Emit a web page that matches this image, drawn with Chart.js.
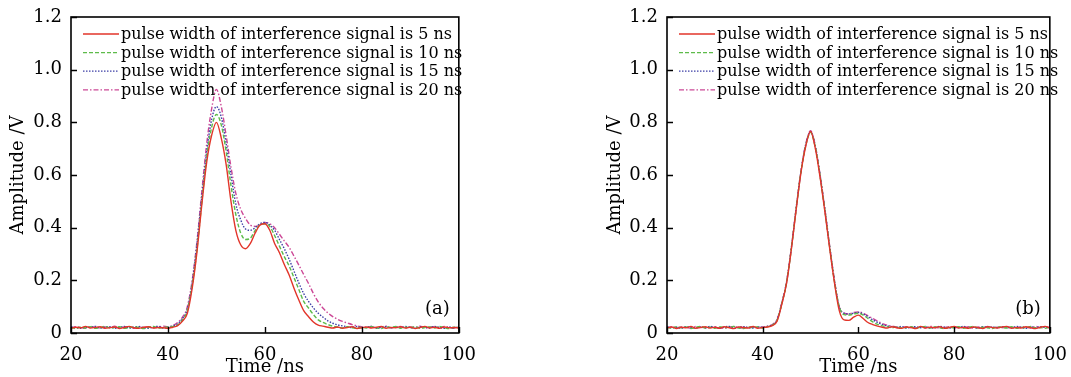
<!DOCTYPE html>
<html>
<head>
<meta charset="utf-8">
<script src="https://cdn.jsdelivr.net/npm/chart.js@4.4.1/dist/chart.umd.min.js"></script>
<style>
  html, body { margin: 0; padding: 0; background: #fff; }
  #wrap { position: relative; width: 1071px; height: 377px; overflow: hidden; }
  .panel { position: absolute; top: 0; }
</style>
</head>
<body>
<div id="wrap">
  <div class="panel" style="left:0px"><canvas id="chartA" width="480" height="377"></canvas></div>
  <div class="panel" style="left:590px"><canvas id="chartB" width="481" height="377"></canvas></div>
</div>
<script>
// time axis (ns)
const times = [
  20, 21, 22, 23, 24, 25, 26, 27, 28, 29,
  30, 31, 32, 33, 34, 35, 36, 37, 38, 39,
  40, 41, 42, 43, 44, 45, 46, 47, 48, 49,
  50, 51, 52, 53, 54, 55, 56, 57, 58, 59,
  60, 61, 62, 63, 64, 65, 66, 67, 68, 69,
  70, 71, 72, 73, 74, 75, 76, 77, 78, 79,
  80, 81, 82, 83, 84, 85, 86, 87, 88, 89,
  90, 91, 92, 93, 94, 95, 96, 97, 98, 99, 100
];

const seriesLabels = [
  'pulse width of interference signal is 5 ns',
  'pulse width of interference signal is 10 ns',
  'pulse width of interference signal is 15 ns',
  'pulse width of interference signal is 20 ns'
];

const yTicks = [0, 0.2, 0.4, 0.6, 0.8, 1.0, 1.2];
const xTicks = [20, 40, 60, 80, 100];

// panel (a)
const a5 = [
  0.018, 0.022, 0.020, 0.025, 0.019, 0.021, 0.024, 0.018, 0.020, 0.023,
  0.017, 0.021, 0.025, 0.020, 0.018, 0.022, 0.024, 0.019, 0.021, 0.020,
  0.018, 0.022, 0.028, 0.045, 0.075, 0.170, 0.310, 0.490, 0.650, 0.750,
  0.800, 0.740, 0.640, 0.500, 0.390, 0.335, 0.320, 0.340, 0.380, 0.410,
  0.415, 0.390, 0.340, 0.305, 0.260, 0.220, 0.170, 0.125, 0.085, 0.062,
  0.042, 0.030, 0.026, 0.022, 0.019, 0.023, 0.018, 0.021, 0.024, 0.017,
  0.020, 0.023, 0.019, 0.022, 0.025, 0.018, 0.021, 0.020, 0.024, 0.019,
  0.022, 0.017, 0.021, 0.025, 0.019, 0.022, 0.018, 0.023, 0.020, 0.021, 0.019
];
const a10 = [
  0.021, 0.017, 0.023, 0.019, 0.024, 0.018, 0.020, 0.025, 0.019, 0.021,
  0.024, 0.018, 0.020, 0.023, 0.021, 0.017, 0.022, 0.025, 0.018, 0.021,
  0.023, 0.025, 0.030, 0.050, 0.085, 0.180, 0.320, 0.500, 0.670, 0.780,
  0.830, 0.790, 0.690, 0.560, 0.450, 0.380, 0.355, 0.360, 0.390, 0.410,
  0.415, 0.405, 0.370, 0.330, 0.290, 0.255, 0.210, 0.165, 0.120, 0.095,
  0.070, 0.050, 0.040, 0.032, 0.026, 0.022, 0.019, 0.024, 0.020, 0.018,
  0.022, 0.019, 0.024, 0.020, 0.017, 0.023, 0.021, 0.025, 0.018, 0.022,
  0.020, 0.024, 0.018, 0.021, 0.023, 0.019, 0.025, 0.020, 0.017, 0.022, 0.021
];
const a15 = [
  0.024, 0.020, 0.018, 0.022, 0.021, 0.025, 0.019, 0.022, 0.024, 0.018,
  0.021, 0.025, 0.019, 0.022, 0.024, 0.020, 0.018, 0.023, 0.025, 0.019,
  0.022, 0.027, 0.035, 0.055, 0.090, 0.190, 0.340, 0.520, 0.690, 0.810,
  0.860, 0.820, 0.720, 0.600, 0.490, 0.430, 0.395, 0.390, 0.400, 0.415,
  0.420, 0.410, 0.390, 0.355, 0.320, 0.280, 0.235, 0.190, 0.150, 0.120,
  0.095, 0.075, 0.060, 0.046, 0.037, 0.031, 0.027, 0.024, 0.021, 0.025,
  0.019, 0.022, 0.025, 0.018, 0.021, 0.024, 0.020, 0.023, 0.019, 0.025,
  0.021, 0.018, 0.024, 0.022, 0.019, 0.025, 0.021, 0.018, 0.023, 0.020, 0.024
];
const a20 = [
  0.020, 0.024, 0.021, 0.018, 0.025, 0.022, 0.019, 0.023, 0.021, 0.026,
  0.019, 0.023, 0.022, 0.018, 0.025, 0.021, 0.024, 0.020, 0.023, 0.026,
  0.024, 0.028, 0.040, 0.060, 0.100, 0.200, 0.350, 0.540, 0.720, 0.850,
  0.925, 0.860, 0.750, 0.630, 0.530, 0.470, 0.435, 0.410, 0.405, 0.410,
  0.420, 0.415, 0.400, 0.375, 0.350, 0.325, 0.292, 0.258, 0.222, 0.188,
  0.150, 0.118, 0.094, 0.076, 0.062, 0.052, 0.044, 0.038, 0.032, 0.027,
  0.024, 0.021, 0.025, 0.019, 0.023, 0.026, 0.020, 0.022, 0.025, 0.018,
  0.023, 0.021, 0.026, 0.019, 0.022, 0.024, 0.020, 0.025, 0.021, 0.018, 0.023
];

// panel (b)
const b5 = [
  0.019, 0.023, 0.017, 0.022, 0.020, 0.025, 0.018, 0.021, 0.024, 0.019,
  0.022, 0.018, 0.024, 0.020, 0.017, 0.023, 0.021, 0.019, 0.025, 0.018,
  0.021, 0.023, 0.028, 0.045, 0.110, 0.190, 0.320, 0.470, 0.610, 0.710,
  0.765, 0.700, 0.590, 0.460, 0.320, 0.190, 0.085, 0.050, 0.048, 0.060,
  0.068, 0.055, 0.040, 0.032, 0.026, 0.022, 0.019, 0.024, 0.020, 0.018,
  0.023, 0.021, 0.017, 0.025, 0.019, 0.022, 0.020, 0.024, 0.018, 0.021,
  0.025, 0.019, 0.022, 0.018, 0.023, 0.020, 0.017, 0.024, 0.021, 0.019,
  0.023, 0.025, 0.018, 0.021, 0.019, 0.024, 0.020, 0.017, 0.022, 0.025, 0.019
];
const b10 = [
  0.022, 0.018, 0.024, 0.020, 0.023, 0.017, 0.021, 0.025, 0.019, 0.022,
  0.018, 0.024, 0.020, 0.022, 0.025, 0.019, 0.017, 0.023, 0.020, 0.024,
  0.019, 0.024, 0.030, 0.048, 0.112, 0.192, 0.322, 0.472, 0.612, 0.712,
  0.762, 0.705, 0.595, 0.465, 0.325, 0.195, 0.100, 0.070, 0.068, 0.072,
  0.075, 0.068, 0.055, 0.042, 0.033, 0.027, 0.024, 0.020, 0.023, 0.019,
  0.021, 0.024, 0.018, 0.022, 0.025, 0.019, 0.023, 0.020, 0.017, 0.022,
  0.020, 0.024, 0.018, 0.021, 0.025, 0.019, 0.022, 0.020, 0.017, 0.023,
  0.021, 0.019, 0.024, 0.018, 0.022, 0.020, 0.025, 0.019, 0.021, 0.018, 0.022
];
const b15 = [
  0.025, 0.020, 0.022, 0.018, 0.024, 0.021, 0.019, 0.023, 0.020, 0.025,
  0.021, 0.019, 0.023, 0.025, 0.018, 0.022, 0.024, 0.020, 0.019, 0.023,
  0.022, 0.025, 0.031, 0.050, 0.114, 0.195, 0.325, 0.475, 0.615, 0.715,
  0.765, 0.708, 0.598, 0.468, 0.328, 0.198, 0.100, 0.075, 0.072, 0.075,
  0.078, 0.072, 0.062, 0.050, 0.040, 0.032, 0.027, 0.024, 0.021, 0.025,
  0.019, 0.022, 0.024, 0.020, 0.023, 0.018, 0.021, 0.025, 0.022, 0.019,
  0.023, 0.021, 0.025, 0.019, 0.022, 0.018, 0.024, 0.021, 0.023, 0.020,
  0.024, 0.022, 0.019, 0.025, 0.021, 0.018, 0.023, 0.020, 0.024, 0.022, 0.020
];
const b20 = [
  0.020, 0.024, 0.019, 0.023, 0.021, 0.018, 0.025, 0.022, 0.019, 0.021,
  0.024, 0.020, 0.018, 0.022, 0.025, 0.021, 0.019, 0.024, 0.022, 0.020,
  0.023, 0.026, 0.032, 0.052, 0.115, 0.196, 0.326, 0.476, 0.616, 0.718,
  0.768, 0.710, 0.600, 0.470, 0.330, 0.200, 0.100, 0.075, 0.072, 0.078,
  0.080, 0.075, 0.065, 0.055, 0.045, 0.036, 0.030, 0.026, 0.023, 0.020,
  0.024, 0.021, 0.019, 0.023, 0.020, 0.025, 0.022, 0.018, 0.021, 0.024,
  0.019, 0.022, 0.020, 0.024, 0.018, 0.023, 0.021, 0.025, 0.019, 0.022,
  0.020, 0.023, 0.021, 0.018, 0.024, 0.022, 0.019, 0.025, 0.020, 0.023, 0.021
];

const colors = ['#e2352a', '#5dbb4a', '#3c3fa6', '#cc4896'];
const dashes = [[], [4, 2], [1.5, 1.5], [5, 2, 1.5, 2]];

const serif = 'DejaVu Serif';
const ink = '#000';

// frame, inward ticks, legend inside the plot, panel letter
const decorations = {
  id: 'decorations',
  afterDraw(chart, args, opts) {
    const { ctx, chartArea: a, scales: { x, y } } = chart;
    ctx.save();
    ctx.strokeStyle = ink;
    ctx.lineWidth = 1.6;
    ctx.strokeRect(a.left, a.top, a.right - a.left, a.bottom - a.top);

    ctx.lineWidth = 1.4;
    ctx.beginPath();
    y.ticks.forEach(t => {
      const py = Math.round(y.getPixelForValue(t.value)) + 0.5;
      ctx.moveTo(a.left, py);
      ctx.lineTo(a.left + 6, py);
    });
    x.ticks.forEach(t => {
      const px = Math.round(x.getPixelForValue(t.value)) + 0.5;
      ctx.moveTo(px, a.bottom);
      ctx.lineTo(px, a.bottom - 6);
    });
    ctx.stroke();

    // legend
    ctx.font = '16px "' + serif + '"';
    ctx.textAlign = 'left';
    ctx.textBaseline = 'alphabetic';
    chart.data.datasets.forEach((ds, i) => {
      const ry = a.top + 17 + i * 18.6;
      ctx.strokeStyle = ds.borderColor;
      ctx.lineWidth = 1.3;
      ctx.setLineDash(ds.borderDash || []);
      ctx.beginPath();
      ctx.moveTo(a.left + opts.lineStart, ry);
      ctx.lineTo(a.left + opts.lineEnd, ry);
      ctx.stroke();
      ctx.setLineDash([]);
      ctx.fillStyle = ink;
      ctx.fillText(ds.label, a.left + opts.lineEnd + 2, ry + 5);
    });

    ctx.font = '18px "' + serif + '"';
    ctx.textAlign = 'right';
    ctx.fillStyle = ink;
    ctx.fillText(opts.letter, a.right - 9, a.bottom - 19);
    ctx.restore();
  }
};

function makeChart(id, series, letter, yWidth, pad, titlePad) {
  const datasets = series.map((vals, i) => ({
    label: seriesLabels[i],
    data: times.map((t, k) => ({ x: t, y: vals[k] })),
    borderColor: colors[i],
    borderDash: dashes[i],
    borderWidth: 1.4,
    pointRadius: 0,
    fill: false,
    cubicInterpolationMode: 'monotone'
  }));

  return new Chart(document.getElementById(id), {
    type: 'line',
    data: { datasets },
    options: {
      responsive: false,
      animation: false,
      layout: { padding: pad },
      plugins: {
        legend: { display: false },
        tooltip: { enabled: false },
        decorations: { letter, lineStart: 12, lineEnd: 48 }
      },
      scales: {
        x: {
          type: 'linear',
          min: 20,
          max: 100,
          afterBuildTicks: s => { s.ticks = xTicks.map(v => ({ value: v })); },
          afterFit: s => { s.height = 44; },
          grid: { display: false },
          border: { display: false },
          ticks: {
            color: ink,
            padding: 4,
            maxRotation: 0,
            font: { family: serif, size: 18 }
          },
          title: {
            display: true,
            text: 'Time /ns',
            color: ink,
            padding: { top: 0, bottom: 0 },
            font: { family: serif, size: 18, lineHeight: 1.1 }
          }
        },
        y: {
          min: 0,
          max: 1.2,
          afterBuildTicks: s => { s.ticks = yTicks.map(v => ({ value: v })); },
          afterFit: s => { s.width = yWidth; },
          grid: { display: false },
          border: { display: false },
          ticks: {
            color: ink,
            padding: 1,
            font: { family: serif, size: 18 },
            callback: v => (v === 0 ? '0' : v.toFixed(1))
          },
          title: {
            display: true,
            text: 'Amplitude /V',
            color: ink,
            padding: { top: titlePad, bottom: 0 },
            font: { family: serif, size: 18 }
          }
        }
      }
    },
    plugins: [decorations]
  });
}

makeChart('chartA', [a5, a10, a15, a20], '(a)', 71, { top: 17, right: 18, left: 0, bottom: 0 }, 8);
makeChart('chartB', [b5, b10, b15, b20], '(b)', 77, { top: 17, right: 14, left: 0, bottom: 0 }, 15);
</script>
</body>
</html>
